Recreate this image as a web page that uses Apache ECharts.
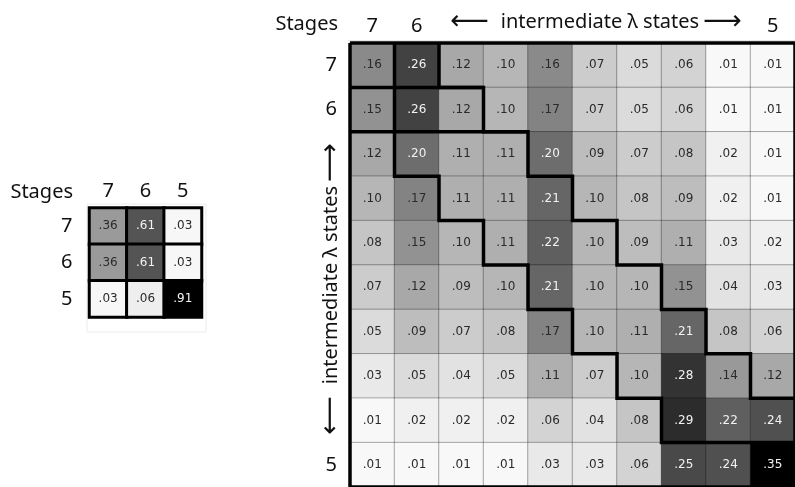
<!DOCTYPE html>
<html>
<head>
<meta charset="utf-8">
<script src="https://cdn.jsdelivr.net/npm/echarts@6/dist/echarts.min.js"></script>
<style>
  html, body { margin: 0; padding: 0; background: #ffffff; }
  #chart { width: 795px; height: 487px; }
</style>
</head>
<body>
<div id="chart"></div>
<script>
// ---------------- data ----------------
const smallCategories = ['7', '6', '5'];
const smallValues = [
  [0.36, 0.61, 0.03],
  [0.36, 0.61, 0.03],
  [0.03, 0.06, 0.91]
];

const bigCategories = ['7', '6', 'λa', 'λb', 'λc', 'λd', 'λe', 'λf', 'λg', '5'];
const bigTickLabels = ['7', '6', '', '', '', '', '', '', '', '5'];
const bigValues = [
  [0.16, 0.26, 0.12, 0.10, 0.16, 0.07, 0.05, 0.06, 0.01, 0.01],
  [0.15, 0.26, 0.12, 0.10, 0.17, 0.07, 0.05, 0.06, 0.01, 0.01],
  [0.12, 0.20, 0.11, 0.11, 0.20, 0.09, 0.07, 0.08, 0.02, 0.01],
  [0.10, 0.17, 0.11, 0.11, 0.21, 0.10, 0.08, 0.09, 0.02, 0.01],
  [0.08, 0.15, 0.10, 0.11, 0.22, 0.10, 0.09, 0.11, 0.03, 0.02],
  [0.07, 0.12, 0.09, 0.10, 0.21, 0.10, 0.10, 0.15, 0.04, 0.03],
  [0.05, 0.09, 0.07, 0.08, 0.17, 0.10, 0.11, 0.21, 0.08, 0.06],
  [0.03, 0.05, 0.04, 0.05, 0.11, 0.07, 0.10, 0.28, 0.14, 0.12],
  [0.01, 0.02, 0.02, 0.02, 0.06, 0.04, 0.08, 0.29, 0.22, 0.24],
  [0.01, 0.01, 0.01, 0.01, 0.03, 0.03, 0.06, 0.25, 0.24, 0.35]
];

// outlines in cell-corner units: [column boundary, row boundary]
const outerFrame = [[0, 0], [10, 0], [10, 10], [0, 10], [0, 0]];
const upperStair = [[2, 0], [2, 1], [3, 1], [3, 2], [4, 2], [4, 3], [5, 3], [5, 4], [6, 4], [6, 5], [7, 5], [7, 6], [8, 6], [8, 7], [9, 7], [9, 8], [10, 8]];
const lowerStair = [[1, 0], [1, 3], [2, 3], [2, 4], [3, 4], [3, 5], [4, 5], [4, 6], [5, 6], [5, 7], [6, 7], [6, 8], [7, 8], [7, 9], [10, 9]];
const divider1 = [[0, 1], [3, 1]];
const divider2 = [[0, 2], [4, 2]];
const outlinePaths = [outerFrame, upperStair, lowerStair, divider1, divider2];

const axisTitleText = 'intermediate λ states';
const stagesTitle = 'Stages';

// ---------------- helpers ----------------
function toCells(matrix) {
  const out = [];
  matrix.forEach((row, r) => row.forEach((v, c) => out.push([c, r, v])));
  return out;
}
function maxOf(matrix) {
  return Math.max.apply(null, matrix.map(r => Math.max.apply(null, r)));
}
const smallMax = maxOf(smallValues);
const bigMax = maxOf(bigValues);

function labelFormatter(maxV) {
  return function (p) {
    const v = p.value[2];
    const s = v.toFixed(2).replace(/^0/, '');
    return (v / maxV > 0.5 ? '{l|' : '{d|') + s + '}';
  };
}
const richLabel = {
  d: { color: '#2a2a2a', fontFamily: 'DejaVu Sans', fontSize: 12 },
  l: { color: '#f2f2f2', fontFamily: 'DejaVu Sans', fontSize: 12 }
};
const FONT = 'Noto Sans';
const axisLabelStyle = { fontFamily: FONT, fontSize: 20, color: '#111' };

const arrowTitle = {
  text: '{a|⟵}{g|}{t|' + axisTitleText + '}{h|}{a|⟶}',
  rich: {
    a: { fontFamily: 'DejaVu Sans', fontSize: 27, fill: '#111', verticalAlign: 'middle' },
    t: { fontFamily: FONT, fontSize: 20, fill: '#111', verticalAlign: 'middle' },
    g: { width: 12 },
    h: { width: 4 }
  },
  fill: '#111',
  textAlign: 'center',
  textVerticalAlign: 'middle'
};

const chart = echarts.init(document.getElementById('chart'), null, { renderer: 'canvas' });

const option = {
  animation: false,
  backgroundColor: '#ffffff',
  grid: [
    { left: 89.5, top: 208, width: 112, height: 109 },
    { left: 350, top: 43, width: 450, height: 446 }
  ],
  xAxis: [
    {
      type: 'category', gridIndex: 0, position: 'top', data: smallCategories,
      axisLine: { show: false }, axisTick: { show: false }, splitLine: { show: false },
      axisLabel: Object.assign({ margin: 7, interval: 0 }, axisLabelStyle)
    },
    {
      type: 'category', gridIndex: 1, position: 'top', data: bigCategories,
      axisLine: { show: false }, axisTick: { show: false }, splitLine: { show: false },
      axisLabel: Object.assign({ margin: 7, interval: 0, formatter: (v, i) => bigTickLabels[i] }, axisLabelStyle)
    }
  ],
  yAxis: [
    {
      type: 'category', gridIndex: 0, inverse: true, data: smallCategories,
      axisLine: { show: false }, axisTick: { show: false }, splitLine: { show: false },
      axisLabel: Object.assign({ margin: 17, interval: 0 }, axisLabelStyle)
    },
    {
      type: 'category', gridIndex: 1, inverse: true, data: bigCategories,
      axisLine: { show: false }, axisTick: { show: false }, splitLine: { show: false },
      axisLabel: Object.assign({ margin: 13, interval: 0, formatter: (v, i) => bigTickLabels[i] }, axisLabelStyle)
    }
  ],
  visualMap: [
    { show: false, seriesIndex: 0, min: 0, max: smallMax, dimension: 2, inRange: { color: ['#ffffff', '#000000'] } },
    { show: false, seriesIndex: 1, min: 0, max: bigMax, dimension: 2, inRange: { color: ['#ffffff', '#000000'] } }
  ],
  series: [
    {
      type: 'heatmap', xAxisIndex: 0, yAxisIndex: 0,
      data: toCells(smallValues),
      itemStyle: { borderColor: '#000', borderWidth: 3 },
      label: { show: true, formatter: labelFormatter(smallMax), rich: richLabel },
      emphasis: { disabled: true }
    },
    {
      type: 'heatmap', xAxisIndex: 1, yAxisIndex: 1,
      data: toCells(bigValues),
      itemStyle: { borderColor: 'rgba(0,0,0,0.3)', borderWidth: 1 },
      label: { show: true, formatter: labelFormatter(bigMax), rich: richLabel },
      emphasis: { disabled: true }
    },
    {
      type: 'custom', xAxisIndex: 1, yAxisIndex: 1, clip: false, silent: true, z: 5,
      data: outlinePaths.map((p, i) => [0, 0, i]),
      renderItem: function (params, api) {
        const path = outlinePaths[api.value(2)];
        const c0 = api.coord([0, 0]);
        const sz = api.size([1, 1]);
        const pts = path.map(([i, j]) => [c0[0] + (i - 0.5) * sz[0], c0[1] + (j - 0.5) * sz[1]]);
        return {
          type: 'polyline',
          shape: { points: pts },
          style: { stroke: '#000', lineWidth: 3.5, fill: null, lineJoin: 'miter' }
        };
      }
    }
  ],
  graphic: [
    { type: 'rect', shape: { x: 87, y: 204, width: 119, height: 128 }, style: { fill: null, stroke: '#ececec', lineWidth: 1 }, z: -1 },
    { type: 'line', shape: { x1: 348, y1: 40.5, x2: 795, y2: 40.5 }, style: { stroke: '#e6e6e6', lineWidth: 1 }, z: -1 },
    { type: 'text', x: 338, y: 24, style: { text: stagesTitle, font: '20px "Noto Sans"', fill: '#111', textAlign: 'right', textVerticalAlign: 'middle' } },
    { type: 'text', x: 73, y: 192, style: { text: stagesTitle, font: '20px "Noto Sans"', fill: '#111', textAlign: 'right', textVerticalAlign: 'middle' } },
    { type: 'text', x: 596, y: 22, style: arrowTitle },
    { type: 'text', x: 331, y: 289, rotation: Math.PI / 2, style: arrowTitle }
  ]
};
chart.setOption(option);
</script>
</body>
</html>
